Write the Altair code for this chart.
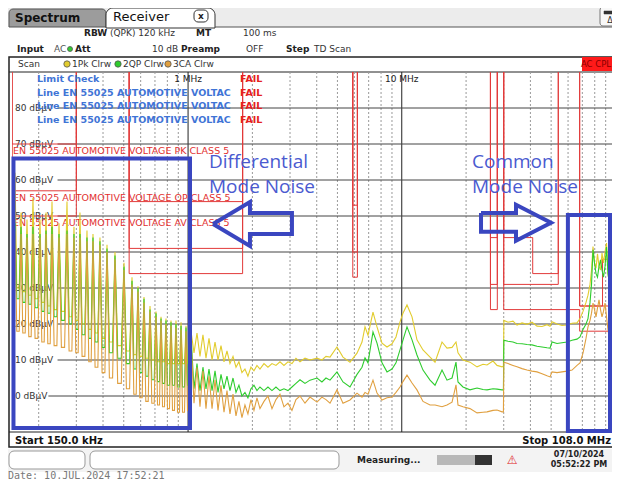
import altair as alt
import pandas as pd

# ---------------- data ----------------
# comb of harmonics, 150 kHz .. 1 MHz (peak frequencies, MHz)
comb_peak_mhz = [0.1549, 0.1653, 0.1763, 0.1880, 0.2028, 0.2164, 0.2308, 0.2489, 0.2713, 0.2925,
                 0.312, 0.3365, 0.359, 0.387, 0.4175, 0.455, 0.5014, 0.5466, 0.5831, 0.622,
                 0.6636, 0.708, 0.7472, 0.7884, 0.832, 0.878, 0.927, 0.978, 1.032]
pk_comb_peak = [62, 51, 49, 55, 49, 51, 54, 48, 54, 47, 51, 46, 45, 44, 42, 40, 37, 33, 30.5, 27.5,
                25, 23.5, 22, 21.5, 21, 21, 20.5, 19.5, 18]
qp_comb_peak = [48, 47, 45, 47, 45, 46, 47, 45, 46, 45, 45, 44, 44, 43, 41, 39, 36, 32, 30, 27,
                24, 23, 21.5, 21, 20.5, 20, 19.5, 19, 17]
av_comb_peak = [46, 45, 44, 45, 44, 45, 45, 44, 45, 44, 44, 43, 43, 42, 40, 38, 35, 31, 29, 26,
                23.5, 22, 21, 20, 19.5, 19, 18.5, 18, 16]
pk_comb_trough = [30, 29, 28, 27, 26, 25, 24, 23.5, 22, 21, 20, 18.5, 17.5, 16, 15, 14, 12.5, 11.5,
                  11, 10.5, 10, 9.5, 9.5, 9, 9, 9, 9, 9]
qp_comb_trough = [27, 26, 25.5, 24.5, 23.5, 23, 22, 21, 20, 18.5, 17, 16, 15, 13.5, 12, 10.5, 9, 7.5,
                  6.5, 5.5, 4.5, 4, 3.5, 3, 3, 2.5, 2.5, 3]
av_comb_trough = [18, 17.5, 16.5, 16, 15, 14.5, 14, 13.5, 12.5, 12, 11, 9.5, 8, 6.5, 5, 3.5, 2, 0.5,
                  -0.5, -1.5, -2, -2.5, -3, -3.5, -4, -4.5, -4.5, -4]

# 1 MHz .. 3.5 MHz
band_b_mhz = [1.066, 1.101, 1.137, 1.174, 1.213, 1.253, 1.295, 1.337, 1.381, 1.426, 1.473, 1.521,
              1.571, 1.623, 1.676, 1.730, 1.787, 1.846, 1.906, 1.969, 2.034, 2.101, 2.170, 2.266,
              2.365, 2.470, 2.578, 2.692, 2.810, 2.934, 3.063, 3.198, 3.340, 3.525]
pk_b = [12, 17.5, 11, 17, 10.5, 16, 10, 15, 10, 14, 9.5, 12.5, 9, 11, 8, 9.5, 6.5, 7.5, 5.5, 8,
        7, 8.5, 7.5, 9, 8, 9, 8.5, 9.5, 8.5, 9.5, 9, 10.5, 9.5, 10.5]
qp_b = [2, 9, 1.5, 8, 2, 7.5, 1.5, 7, 1, 6, 2, 5.5, 1.5, 5, 1, 3, 0, 1, -0.5, 2,
        3, 1.5, 2.5, 1.5, 2.5, 1.5, 2.5, 1.5, 2, 1.5, 2.5, 3.5, 4.5, 3.5]
av_b = [-2, 8, -3, 7, -3.5, 5.5, -3.5, 4.5, -4, 3, -4.5, 1.5, -5, 0.5, -5.5, -1.5, -6, -2.5, -5, -1,
        -4, -0.5, -3.5, -1.5, 0, -3.5, -1, 0.5, -3, -2, -4, -1, 0, -2]

# 3.7 MHz .. 30 MHz
band_c_mhz = [3.72, 4.012, 4.231, 4.419, 4.616, 4.976, 5.308, 5.724, 6.174, 6.516, 6.730, 6.950,
              7.334, 7.659, 8.082, 8.530, 9.002, 9.398, 9.812, 10.13, 10.58, 11.17, 11.78, 12.57,
              13.56, 14.31, 15.43, 16.28, 17.19, 17.94, 18.33, 19.34, 20.86, 22.50, 24.00, 25.06,
              26.73, 27.91, 29.46, 29.9]
pk_c = [10, 10.5, 10, 11, 10.8, 13.6, 10.8, 9.4, 11.9, 15, 19.2, 16.9, 23.3, 19.2, 14.7, 13.6,
        14.5, 16.4, 20.6, 23, 25.3, 22, 15.6, 12.8, 10.8, 9.4, 15, 13.3, 13.5, 15, 12, 10, 9.4,
        8.1, 8.8, 8.6, 9.7, 8.5, 8.1, 8.3]
qp_c = [4.4, 5, 3.9, 5, 4.4, 6.7, 3.9, 2.5, 6, 8, 10.6, 9.2, 17.8, 14.7, 9.2, 6.7, 7.5, 9.2, 12.8,
        15.5, 19.2, 15.6, 11.4, 7.2, 4.4, 3, 7.2, 4.4, 5, 9.4, 3.9, 2.5, 1.7, 2.2, 1.8, 1.7, 2, 1.9,
        1.7, 1.7]
av_c = [-0.3, -1.7, -0.3, -1, -2, 1.7, -2, -1.1, 0.8, -0.3, 1, 0.5, 4.4, 0.8, -1.1, -0.5, -0.3, 1,
        2.5, 4, 5.8, 3.6, 1.7, -1.5, -2.5, -2.5, -3, -2.5, -1.7, 3.1, -2.5, -3, -3.5, -4.7, -4.5,
        -4.4, -4, -3.9, -4.4, -4.4]

# 30 MHz .. 108 MHz
band_d_mhz = [30.05, 31.42, 33.15, 34.62, 36.54, 38.56, 40.70, 42.95, 45.33, 47.83, 49.41, 50.49,
              53.27, 56.22, 59.33, 62.63, 66.08, 68.25, 70.49, 72.81, 74.39, 76.02, 77.26, 78.51,
              79.79, 81.09, 82.41, 83.75, 85.12, 86.50, 87.90, 89.36, 90.82, 92.29, 94.31, 96.36,
              99.52, 105.0, 108.0]
pk_d = [21, 20.5, 20.8, 19.7, 20.3, 19.9, 20.5, 19.4, 19.3, 19.8, 19.4, 20.6, 20, 19.6, 19.7, 20.2,
        20.3, 21.5, 23.5, 26, 28, 31, 35, 41.5, 37, 35.5, 39.5, 36, 35, 39.7, 37, 40, 42.5, 34, 30,
        23, 20, 19, 19]
qp_d = [15.5, 15.2, 15, 14.6, 14.5, 14.3, 14.2, 13.8, 13.6, 13.4, 13.3, 15, 14.6, 14.8, 15, 15.5,
        15.8, 16.4, 18.5, 20, 21.5, 26, 31, 40.6, 37, 34, 33, 36, 37.8, 35, 33, 36, 41.4, 34, 30,
        26, 21, 18, 18]
av_d = [9.4, 9, 8.5, 8.1, 7.6, 7.2, 6.9, 6.7, 6.2, 5.6, 5.3, 6.7, 6.5, 6.7, 6.9, 7.2, 8.5, 9.2,
        11.9, 16, 19.2, 21, 23, 25.8, 24, 22, 24.5, 26.7, 24, 22, 23.5, 25.8, 22, 18.3, 15, 12.8,
        10, 8, 8]

# EN 55025 class 5 limits (dBuV)
band_lo_mhz = [0.15, 0.53, 5.9, 26.0]
band_hi_mhz = [0.30, 1.8, 6.2, 28.0]
pk_limit = [70, 54, 53, 44]
qp_limit = [57, 41, 40, 31]
av_limit = [50, 34, 33, 24]
vhf_pk_mhz = [30, 30, 41, 41, 54, 54]
vhf_pk_db = [90, 44, 44, 34, 34, 90]
mob_pk_mhz = [68, 68, 87, 87, 108]
mob_pk_db = [90, 25, 25, 38, 38]
vhf_qp_mhz = [30, 30, 54, 54]
vhf_qp_db = [90, 31, 31, 90]
fm_qp_mhz = [68, 68, 108]
fm_qp_db = [90, 25, 25]
vhf_av_mhz = [30, 30, 68, 68, 108]
vhf_av_db = [90, 24, 24, 18, 18]
limit_names = ["EN 55025 AUTOMOTIVE VOLTAGE PK CLASS 5",
               "EN 55025 AUTOMOTIVE VOLTAGE QP CLASS 5",
               "EN 55025 AUTOMOTIVE VOLTAGE AV CLASS 5"]

# grid
grid_db = [80, 70, 60, 50, 40, 30, 20, 10, 0]
grid_labels = ["80 dBµV", "70 dBµV", "60 dBµV", "50 dBµV", "40 dBµV", "30 dBµV", "20 dBµV", "10 dBµV", "0 dBµV"]
grid_start_mhz = [0.245, 0.245, 0.245, 0.245, 0.245, 0.245, 0.245, 0.245, 0.222]
minor_mhz = [0.2, 0.3, 0.4, 0.5, 0.6, 0.7, 0.8, 0.9, 2, 3, 4, 5, 6, 7, 8, 9,
             20, 30, 40, 50, 60, 70, 80, 90]
decade_mhz = [1, 10, 100]
decade_labels = ["1 MHz", "10 MHz"]

# annotation shapes (data units)
box_f1 = [0.1524, 59.9]
box_f2 = [1.021, 94.3]
box_top_db = [66.0, 50.3]
box_bot_db = [-8.9, -9.7]
left_arrow_mhz = [1.309, 1.948, 1.948, 3.063, 3.063, 1.948, 1.948, 1.309]
left_arrow_db = [47.8, 53.9, 50.8, 50.8, 45.0, 45.0, 41.7, 47.8]
right_arrow_mhz = [23.49, 34.24, 34.24, 49.94, 34.24, 34.24, 23.49, 23.49]
right_arrow_db = [50.8, 50.8, 53.1, 48.1, 43.1, 45.6, 45.6, 50.8]

# ---------------- build tables ----------------
def comb(peaks, troughs):
    fs, ds = [], []
    for i, f in enumerate(comb_peak_mhz):
        fs.append(f); ds.append(peaks[i])
        if i < len(troughs):
            g = comb_peak_mhz[i + 1]
            for t in (0.3, 0.7):
                fs.append(f * (g / f) ** t); ds.append(troughs[i])
    return fs, ds

def trace_df(peaks, troughs, b, c, d):
    fs, ds = comb(peaks, troughs)
    fs = fs + band_b_mhz + band_c_mhz + band_d_mhz
    ds = ds + b + c + d
    return pd.DataFrame({"f": fs, "db": ds, "i": range(len(fs))})

pk_df = trace_df(pk_comb_peak, pk_comb_trough, pk_b, pk_c, pk_d)
qp_df = trace_df(qp_comb_peak, qp_comb_trough, qp_b, qp_c, qp_d)
av_df = trace_df(av_comb_peak, av_comb_trough, av_b, av_c, av_d)

lim_rows = []
def add_path(name, fs, ds):
    for k, (f, d) in enumerate(zip(fs, ds)):
        lim_rows.append({"path": name, "i": k, "f": f, "db": d})
for j in range(len(band_lo_mhz)):
    for det, lv in (("pk", pk_limit), ("qp", qp_limit), ("av", av_limit)):
        lo, hi = band_lo_mhz[j], band_hi_mhz[j]
        add_path(f"{det}{j}", [lo, lo, hi, hi], [90, lv[j], lv[j], 90])
add_path("vpk", vhf_pk_mhz, vhf_pk_db)
add_path("mpk", mob_pk_mhz, mob_pk_db)
add_path("vqp", vhf_qp_mhz, vhf_qp_db)
add_path("fqp", fm_qp_mhz, fm_qp_db)
add_path("vav", vhf_av_mhz, vhf_av_db)
lim_df = pd.DataFrame(lim_rows)

arrow_df = pd.DataFrame(
    [{"path": "L", "i": k, "f": f, "db": d} for k, (f, d) in enumerate(zip(left_arrow_mhz, left_arrow_db))] +
    [{"path": "R", "i": k, "f": f, "db": d} for k, (f, d) in enumerate(zip(right_arrow_mhz, right_arrow_db))])

XS = alt.Scale(type="log", domain=[0.15, 108], range=[0, 610.6], nice=False)
YS = alt.Scale(domain=[-10, 90], nice=False, zero=False)
X = lambda fld="f": alt.X(f"{fld}:Q", scale=XS, axis=None)
Y = lambda fld="db": alt.Y(f"{fld}:Q", scale=YS, axis=None)
FONT = "DejaVu Sans"

def one():
    return pd.DataFrame({"k": [0]})

def txt(s, px, py, size=9, weight="normal", color="#222", align="left", font=FONT):
    return alt.Chart(one()).mark_text(align=align, baseline="middle", fontSize=size,
                                      fontWeight=weight, color=color, font=font).encode(
        x=alt.value(px), y=alt.value(py), text=alt.value(s))

def rect(x1, x2, y1, y2, fill="white", stroke="#333", sw=1.0, fo=1.0, **kw):
    return alt.Chart(one()).mark_rect(fill=fill, fillOpacity=fo, stroke=stroke, strokeWidth=sw, **kw).encode(
        x=alt.value(x1), x2=alt.value(x2), y=alt.value(y1), y2=alt.value(y2))

def hline(x1, x2, y, color="#222", sw=1.0):
    return alt.Chart(one()).mark_rule(color=color, strokeWidth=sw).encode(
        x=alt.value(x1), x2=alt.value(x2), y=alt.value(y))

def dot(px, py, color, size=40):
    return alt.Chart(one()).mark_circle(opacity=1, stroke="#555", strokeWidth=0.8).encode(
        x=alt.value(px), y=alt.value(py), size=alt.value(size), color=alt.value(color))

layers = []
# --- GUI chrome (pixel positions relative to plot area) ---
layers += [
    rect(-4, 612, -64, -45, fill="#ececec", stroke="#ececec", sw=0),
    rect(-3, 94, -63, -45, fill="#9c9c9c", stroke="#555", cornerRadiusTopLeft=4, cornerRadiusTopRight=4),
    txt("Spectrum", 3, -54, size=12, weight="bold", color="#111"),
    rect(94, 203, -64, -44, fill="white", stroke="#333", cornerRadiusTopLeft=7, cornerRadiusTopRight=7),
    txt("Receiver", 101, -55, size=13, color="#111"),
    rect(182, 196, -62, -50, fill="white", stroke="#333", cornerRadius=4),
    txt("x", 189, -56.5, size=9, weight="bold", align="center"),
    hline(203, 612, -45, color="#555"),
    rect(588, 612, -65, -46, fill="#f8f8f8", stroke="#777", cornerRadius=3),
    rect(592, 604, -61, -58, fill="#333", stroke="#333", sw=0.5),
    txt("Δ", 598, -51, size=8, align="center", color="#333"),
    txt("RBW", 72, -39, weight="bold"),
    txt("(QPK) 120 kHz", 98, -39, color="#333"),
    txt("MT", 184, -39, weight="bold"),
    txt("100 ms", 231, -39, color="#333"),
    txt("Input", 5, -23, weight="bold"),
    txt("AC", 42, -23, color="#555"),
    dot(58, -23, "#33cc33", size=25),
    txt("Att", 63, -23, weight="bold"),
    txt("10 dB", 140, -23, color="#333"),
    txt("Preamp", 169, -23, weight="bold"),
    txt("OFF", 234, -23, color="#333"),
    txt("Step", 274, -23, weight="bold"),
    txt("TD Scan", 302, -23, color="#333"),
    rect(-3, 612, -15, 375, fill="white", stroke="#222", sw=1.5),
    txt("Scan", 6, -8, size=9, color="#333"),
    dot(55, -8, "#e2cc2e"), txt("1Pk Clrw", 60, -8, size=9, color="#333"),
    dot(106, -8, "#2ecc2e"), txt("2QP Clrw", 111, -8, size=9, color="#333"),
    dot(156, -8, "#e0a040"), txt("3CA Clrw", 161, -8, size=9, color="#333"),
    rect(570, 612, -15, -1, fill="#ff1a1a", stroke="#ff1a1a", sw=0),
    txt("AC CPL", 584, -8, size=8.5, align="center", color="#8a0000"),
    hline(-3, 612, 0, color="#222"),
    hline(-3, 612, 360, color="#222"),
    txt("Start 150.0 kHz", 3, 369, size=10, weight="bold", color="#111"),
    txt("Stop 108.0 MHz", 599, 369, size=10, weight="bold", color="#111", align="right"),
    rect(-4, 612, 377, 400, fill="#f3f3f3", stroke="#f3f3f3", sw=0),
    rect(-3, 73, 379, 397, fill="white", stroke="#999", cornerRadius=5),
    rect(78, 327, 379, 397, fill="white", stroke="#999", cornerRadius=5),
    txt("Measuring...", 345, 388, size=9, weight="bold", color="#222"),
    rect(425, 463, 383, 393, fill="#b8b8b8", stroke="#b8b8b8", sw=0),
    rect(463, 480, 383, 393, fill="#333", stroke="#333", sw=0),
    txt("⚠", 500, 388, size=12, weight="bold", color="#e02020", align="center"),
    txt("07/10/2024", 567, 383, size=8, weight="bold", color="#222", align="center"),
    txt("05:52:22 PM", 567, 393, size=8, weight="bold", color="#222", align="center"),
    txt("Date: 10.JUL.2024  17:52:21", -4, 404, size=10, color="#777", font="DejaVu Sans Mono"),
]

# --- grid ---
hgrid = pd.DataFrame({"db": grid_db, "start": grid_start_mhz, "end": [108] * len(grid_db), "lab": grid_labels})
layers.append(alt.Chart(pd.DataFrame({"f": minor_mhz})).mark_rule(color="#9a9a9a", strokeDash=[2, 2], strokeWidth=1).encode(x=X()))
layers.append(alt.Chart(pd.DataFrame({"f": decade_mhz})).mark_rule(color="#222", strokeWidth=1).encode(x=X()))
layers.append(alt.Chart(hgrid).mark_rule(color="#444", strokeWidth=1).encode(y=Y(), x=X("start"), x2="end:Q"))
layers.append(alt.Chart(hgrid).mark_text(align="left", baseline="middle", fontSize=9, font=FONT, color="#333").encode(
    y=Y(), x=alt.value(3), text="lab:N"))
layers.append(alt.Chart(pd.DataFrame({"f": decade_mhz[:2], "lab": decade_labels})).mark_text(
    align="center", baseline="middle", fontSize=9, font=FONT, color="#222").encode(x=X(), y=alt.value(7), text="lab:N"))

# --- limit lines ---
layers.append(alt.Chart(lim_df).mark_line(color="#e23a3a", strokeWidth=1, clip=True).encode(
    x=X(), y=Y(), detail="path:N", order="i:Q"))
lab_df = pd.DataFrame({"f": [band_lo_mhz[0]] * 3, "db": [pk_limit[0], qp_limit[0], av_limit[0]], "lab": limit_names})
layers.append(alt.Chart(lab_df).mark_text(align="left", baseline="top", dy=2, dx=1, fontSize=9.5, font=FONT,
                                          color="#e23030").encode(x=X(), y=Y(), text="lab:N"))

# --- traces ---
for df, col in ((pk_df, "#e2cc2e"), (qp_df, "#2ecc2e"), (av_df, "#e0a040")):
    layers.append(alt.Chart(df).mark_line(color=col, strokeWidth=1.1, clip=True).encode(x=X(), y=Y(), order="i:Q"))

# --- limit check texts ---
layers += [
    txt("Limit Check", 25, 7, size=9.5, weight="bold", color="#3f74d6"),
    txt("FAIL", 228, 7, size=9.5, weight="bold", color="#e52020"),
]
for yy in (21, 34, 48):
    layers += [txt("Line EN 55025 AUTOMOTIVE VOLTAC", 25, yy, size=9.5, weight="bold", color="#3f74d6"),
               txt("FAIL", 228, yy, size=9.5, weight="bold", color="#e52020")]

# --- annotations ---
boxes = pd.DataFrame({"f1": box_f1, "f2": box_f2, "d1": box_top_db, "d2": box_bot_db})
layers.append(alt.Chart(boxes).mark_rect(fillOpacity=0, stroke="#3a46c0", strokeWidth=4).encode(
    x=X("f1"), x2="f2:Q", y=Y("d1"), y2="d2:Q"))
layers.append(alt.Chart(arrow_df).mark_line(color="#3a46c0", strokeWidth=4, strokeJoin="miter").encode(
    x=X(), y=Y(), detail="path:N", order="i:Q"))
NB = "#4a5ad0"
layers += [
    txt("Differential", 197, 90, size=19, color=NB, font="Open Sans"),
    txt("Mode Noise", 197, 115, size=19, color=NB, font="Open Sans"),
    txt("Common", 460, 90, size=19, color=NB, font="Open Sans"),
    txt("Mode Noise", 460, 115, size=19, color=NB, font="Open Sans"),
]

chart = alt.layer(*layers).properties(
    width=600, height=360,
    autosize=alt.AutoSizeParams(type="none"),
    padding={"left": 4, "top": 64, "right": 0, "bottom": 50},
).configure_view(stroke=None).configure(background="white")

chart.save("out.html", embed_options={"renderer": "svg", "actions": False})
